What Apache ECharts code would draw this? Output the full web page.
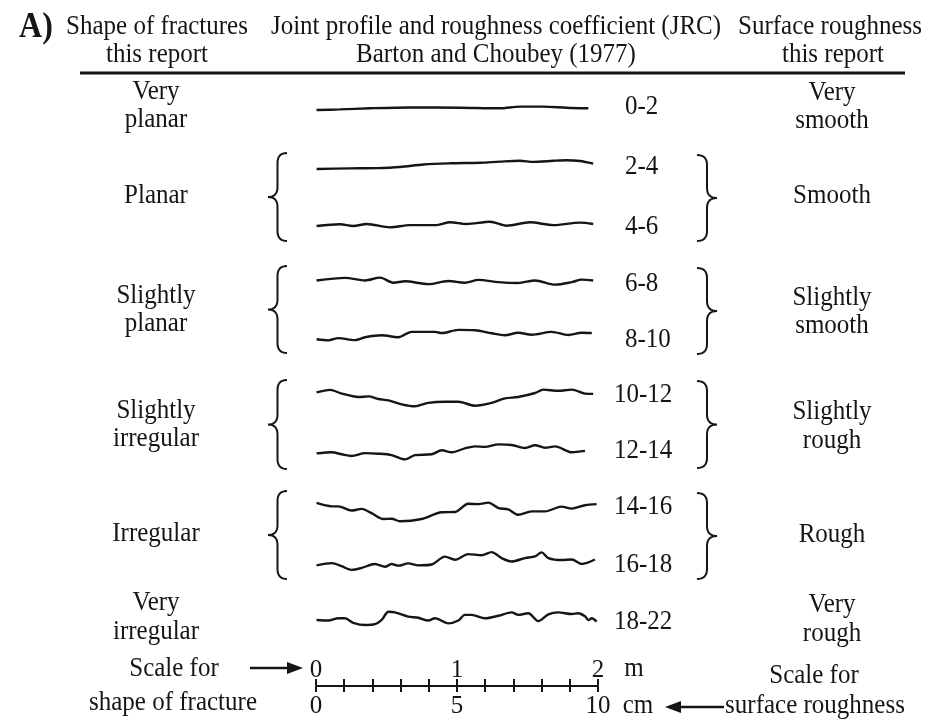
<!DOCTYPE html>
<html><head><meta charset="utf-8">
<script src="https://cdn.jsdelivr.net/npm/echarts@6/dist/echarts.min.js"></script>
<style>html,body{margin:0;padding:0;background:#fff}#c{width:930px;height:721px}</style>
</head><body><div id="c"></div>
<script>
// ---------------- DATA ----------------
// JRC classes (Barton and Choubey 1977)
const jrcLabels = ['0-2','2-4','4-6','6-8','8-10','10-12','12-14','14-16','16-18','18-22'];
// Shape of fractures (left column) and surface roughness (right column)
const shapeClasses = [['Very','planar'],['Planar'],['Slightly','planar'],['Slightly','irregular'],['Irregular'],['Very','irregular']];
const roughClasses = [['Very','smooth'],['Smooth'],['Slightly','smooth'],['Slightly','rough'],['Rough'],['Very','rough']];
// Scale bar tick labels
const scaleCmMax = 10, scaleCmStep = 1, scaleCmLabelStep = 5;
const scaleMMax = 2, scaleMStep = 0.2;

// Joint profiles: [distance along profile (cm), relief (mm)]
const profile_0_2 = [[0.02,-0.7],[0.85,-0.5],[1.91,-0.1],[3.33,0.2],[5.11,0.1],[6.52,-0.1],[7.23,0.5],[8.06,0.5],[8.89,0.1],[9.66,-0.1]];
const profile_2_4 = [[0.02,-1.4],[1.21,-1.2],[2.15,-1.1],[2.98,-0.7],[3.81,0.2],[4.75,0.6],[5.82,0.8],[6.52,1.2],[7.23,1.5],[7.71,1.1],[8.42,1.5],[8.89,1.7],[9.36,1.4],[9.83,0.5]];
const profile_4_6 = [[0.02,-0.7],[0.85,-0.1],[1.32,-0.7],[1.80,0],[2.62,-1.2],[3.33,-0.4],[4.28,-0.4],[4.75,0.6],[5.34,0],[6.17,0.8],[6.76,-0.6],[7.59,0.6],[8.42,-0.4],[9.36,0.5],[9.83,0]];
const profile_6_8 = [[0.02,0.2],[1.03,1.1],[1.74,0.2],[2.27,1.2],[2.74,-0.6],[3.16,-0.1],[3.98,-1.1],[4.69,0],[5.28,-0.6],[5.76,0.4],[6.47,-0.4],[7.17,-0.7],[7.77,0.2],[8.48,-1.3],[9.07,-0.4],[9.42,0.5],[9.83,0.2]];
const profile_8_10 = [[0.02,-1.5],[0.44,-1.9],[0.79,-1.1],[1.38,-1.8],[1.74,-0.8],[2.33,-0.1],[2.92,-0.8],[3.39,1.1],[4.22,1.1],[4.46,0.7],[5.05,1.8],[5.64,1.7],[6.23,0.6],[6.70,-0.1],[7.17,0.8],[7.65,0.1],[8.36,1.1],[8.95,0],[9.42,0.8],[9.78,0.7]];
const profile_10_12 = [[0.02,0.9],[0.50,1.8],[0.91,0.5],[1.50,-0.7],[1.86,-0.5],[2.21,-1.4],[2.57,-1.9],[3.04,-3.3],[3.51,-4.0],[3.98,-2.8],[4.57,-2.4],[5.05,-2.4],[5.64,-3.8],[6.23,-2.8],[6.70,-1.2],[7.17,-0.7],[7.77,0.7],[8.06,1.9],[8.59,1.5],[9.07,1.9],[9.54,0.5],[9.83,0.4]];
const profile_12_14 = [[0.02,-0.5],[0.56,-0.1],[0.91,-0.8],[1.26,-1.4],[1.74,-0.4],[2.21,-0.6],[2.68,-1.1],[3.16,-2.6],[3.51,-1.1],[4.10,-0.8],[4.46,0.6],[4.81,-0.1],[5.28,1.3],[5.64,2.0],[5.99,1.8],[6.47,2.7],[6.94,2.5],[7.41,1.4],[7.77,2.4],[8.12,1.5],[8.48,2.0],[9.07,-0.1],[9.54,0.4]];
const profile_14_16 = [[0.02,2.5],[0.56,1.3],[0.79,1.3],[1.26,-0.2],[1.62,0.4],[1.97,-1.1],[2.39,-3.2],[2.68,-3.1],[2.98,-4.0],[3.75,-3.2],[4.46,-0.8],[4.93,-0.7],[5.40,2.2],[5.76,2.1],[6.11,2.6],[6.47,0.7],[6.82,0.2],[7.17,-1.7],[7.65,-0.5],[8.12,-0.5],[8.71,1.2],[9.07,0.5],[9.54,1.7],[9.95,2.1]];
const profile_16_18 = [[0.02,-1.2],[0.56,-0.4],[0.91,-1.5],[1.26,-2.8],[1.62,-2.1],[2.09,-0.7],[2.45,-1.7],[2.68,-0.7],[2.92,-1.3],[3.27,-0.5],[3.63,-1.2],[4.10,-0.9],[4.57,1.9],[4.93,0.8],[5.40,2.8],[5.87,2.4],[6.23,3.5],[6.58,1.4],[6.94,0.2],[7.41,1.4],[7.77,2.0],[8.00,3.4],[8.24,1.4],[8.71,0.7],[9.07,0.9],[9.42,-0.7],[9.89,0.9]];
const profile_18_22 = [[0.02,-0.7],[0.44,-0.9],[0.79,-0.1],[1.03,-0.1],[1.32,-1.7],[1.74,-2.5],[2.09,-2.2],[2.33,-0.7],[2.57,2.2],[2.80,2.0],[3.27,0.5],[3.63,0.1],[3.98,-0.9],[4.22,-0.1],[4.69,-1.9],[5.05,-0.9],[5.28,1.1],[5.52,1.1],[5.99,-0.1],[6.47,0.8],[6.94,2.0],[7.17,1.1],[7.53,1.7],[7.88,-1.1],[8.24,1.3],[8.59,2.0],[9.07,1.4],[9.30,1.7],[9.54,0.6],[9.66,-0.7],[9.78,-0.1],[9.95,-1.3]];
const profiles = [profile_0_2,profile_2_4,profile_4_6,profile_6_8,profile_8_10,profile_10_12,profile_12_14,profile_14_16,profile_16_18,profile_18_22];

// ---------------- LAYOUT ----------------
const FONT = '"Liberation Serif","Times New Roman",serif';
const INK = '#151515';
const FS = 25;
const TSY = 1.12;                                 // vertical stretch of the lettering
const plotLeft = 316, plotWidth = 282;           // 10 cm
const pxPerMm = plotWidth / 100;                  // equal aspect
const rowCenters = [108,165,224,281,335,395,452,510,562,618];
const jrcLabelY = [107,167,227,284,340,395,451,507,565,622];
const leftTextY = [[92,120],[196],[296,324],[411,439],[534],[603,632]];
const rightTextY = [[93,121],[196],[298,326],[412,441],[535],[605,634]];
const leftBraces = [[153,241],[266,353],[380,469],[491,579]];
const rightBraces = [[155,241],[268,354],[381,468],[493,579]];

const grids = [], xAxes = [], yAxes = [], series = [];
const halfMm = 10;
profiles.forEach((p, i) => {
  grids.push({left: plotLeft, width: plotWidth, top: rowCenters[i] - halfMm*pxPerMm, height: 2*halfMm*pxPerMm});
  xAxes.push({gridIndex: i, type: 'value', min: 0, max: 10, show: false});
  yAxes.push({gridIndex: i, type: 'value', min: -halfMm, max: halfMm, show: false});
  series.push({type: 'line', name: jrcLabels[i], xAxisIndex: i, yAxisIndex: i, data: p,
    showSymbol: false, smooth: 0.3, lineStyle: {color: INK, width: 2.4}, silent: true});
});
// scale bar grid
const sg = profiles.length;
grids.push({left: plotLeft, width: plotWidth, top: 685, height: 1});
const axLbl = {fontFamily: FONT, fontSize: FS, color: INK};
xAxes.push({gridIndex: sg, type: 'value', min: 0, max: scaleCmMax, interval: scaleCmStep, position: 'bottom',
  axisLine: {show: true, lineStyle: {color: INK, width: 2}},
  axisTick: {show: true, length: 6, lineStyle: {color: INK, width: 2}},
  splitLine: {show: false},
  axisLabel: Object.assign({margin: 8, formatter: v => (Math.round(v) % scaleCmLabelStep === 0 ? String(Math.round(v)) : '')}, axLbl)});
xAxes.push({gridIndex: sg, type: 'value', min: 0, max: scaleMMax, interval: scaleMStep, position: 'top',
  axisLine: {show: false},
  axisTick: {show: true, length: 6, lineStyle: {color: INK, width: 2}},
  splitLine: {show: false},
  axisLabel: Object.assign({margin: 2, formatter: v => (Math.abs(v - Math.round(v)) < 1e-6 ? String(Math.round(v)) : '')}, axLbl)});
yAxes.push({gridIndex: sg, type: 'value', show: false, min: 0, max: 1});
series.push({type: 'line', xAxisIndex: sg, yAxisIndex: sg, data: [], silent: true});

// ---------------- GRAPHICS ----------------
const g = [];
function txt(s, x, y, opts) {
  g.push({type: 'text', x: x, y: y, scaleY: TSY, silent: true,
    style: Object.assign({text: s, fill: INK, font: `${FS}px ${FONT}`, textAlign: 'center', textVerticalAlign: 'middle'}, opts || {})});
}
function qpts(p0, c, p1, n) {
  const out = [];
  for (let k = 0; k <= n; k++) {
    const t = k / n, a = (1-t)*(1-t), b = 2*(1-t)*t, d = t*t;
    out.push([a*p0[0]+b*c[0]+d*p1[0], a*p0[1]+b*c[1]+d*p1[1]]);
  }
  return out;
}
function brace(xa, xt, y0, y1) {
  const xs = (xa + xt) / 2, ym = (y0 + y1) / 2, r = 10;
  let pts = [];
  pts = pts.concat(qpts([xa, y0], [xs, y0], [xs, y0 + r], 8));
  pts = pts.concat(qpts([xs, ym - r], [xs, ym], [xt, ym], 8));
  pts = pts.concat(qpts([xt, ym], [xs, ym], [xs, ym + r], 8));
  pts = pts.concat(qpts([xs, y1 - r], [xs, y1], [xa, y1], 8));
  g.push({type: 'polyline', silent: true, shape: {points: pts}, style: {stroke: INK, lineWidth: 2, fill: null}});
}
// header
txt('A)', 36, 28, {font: `bold 32px ${FONT}`});
txt('Shape of fractures', 157, 27); txt('this report', 157, 55);
txt('Joint profile and roughness coefficient (JRC)', 496, 27); txt('Barton and Choubey (1977)', 496, 55);
txt('Surface roughness', 830, 27); txt('this report', 833, 55);
g.push({type: 'line', silent: true, shape: {x1: 80, y1: 73, x2: 905, y2: 73}, style: {stroke: INK, lineWidth: 3}});
// class labels
shapeClasses.forEach((lines, i) => lines.forEach((s, j) => txt(s, 156, leftTextY[i][j])));
roughClasses.forEach((lines, i) => lines.forEach((s, j) => txt(s, 832, rightTextY[i][j])));
jrcLabels.forEach((s, i) => txt(s, s.length === 5 ? 614 : 625, jrcLabelY[i], {textAlign: 'left'}));
leftBraces.forEach(b => brace(287, 268, b[0], b[1]));
rightBraces.forEach(b => brace(697, 717, b[0], b[1]));
// scale annotations
txt('Scale for', 174, 669); txt('shape of fracture', 173, 703);
txt('m', 634, 669); txt('cm', 638, 706);
txt('Scale for', 814, 676); txt('surface roughness', 815, 706);
g.push({type: 'line', silent: true, shape: {x1: 250, y1: 668, x2: 292, y2: 668}, style: {stroke: INK, lineWidth: 2.5}});
g.push({type: 'polygon', silent: true, shape: {points: [[287,662],[303,668],[287,674]]}, style: {fill: INK}});
g.push({type: 'line', silent: true, shape: {x1: 676, y1: 707, x2: 724, y2: 707}, style: {stroke: INK, lineWidth: 2.5}});
g.push({type: 'polygon', silent: true, shape: {points: [[681,701],[665,707],[681,713]]}, style: {fill: INK}});

const chart = echarts.init(document.getElementById('c'), null, {renderer: 'canvas'});
chart.setOption({
  animation: false,
  backgroundColor: '#ffffff',
  grid: grids, xAxis: xAxes, yAxis: yAxes, series: series,
  graphic: g
});
</script></body></html>
